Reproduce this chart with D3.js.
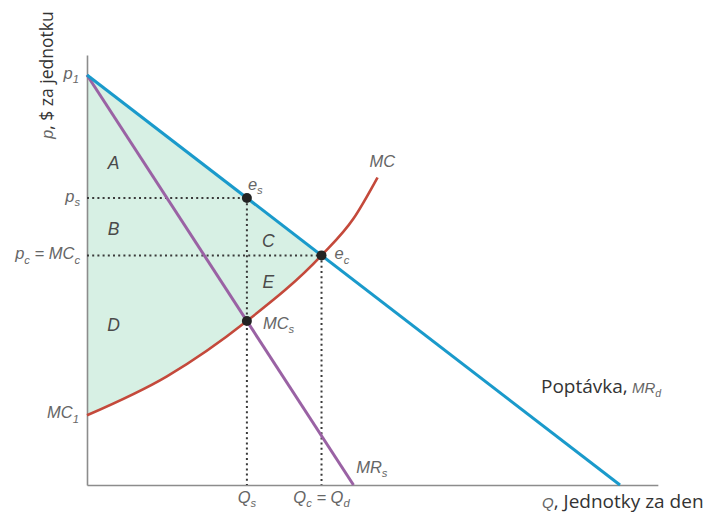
<!DOCTYPE html>
<html>
<head>
<meta charset="utf-8">
<script src="https://cdn.jsdelivr.net/npm/d3@7"></script>
<style>
  html, body { margin: 0; padding: 0; background: #fff; }
  svg { display: block; }
  .it { font-family: "Liberation Sans", Arial, sans-serif; font-style: italic; fill: #666; }
  .reg { font-family: "Open Sans", "Noto Sans", sans-serif; fill: #333; }
</style>
</head>
<body>
<script>
// Price axis (p, $ per unit) and quantity axis (Q, units per day)
const demandQ = [0, 100];
const demandP = [100, 0];
const mrQ = [0, 50];
const mrP = [100, 0];
const mcQ = [0, 15, 30, 44, 50, 54.5];
const mcP = [17, 26.5, 40, 56, 65, 75];

// Key points: monopsony equilibrium, competitive equilibrium, marginal cost at Qs
const pointNames = ["es", "ec", "MCs"];
const pointQ = [30, 44, 30];
const pointP = [70, 56, 40];

const Qs = 30, Qc = 44, ps = 70, pc = 56, p1 = 100, mc1 = 17;
const qAxisMax = 107.1, pAxisMax = 104.9;

const W = 709, H = 513;
const x = d3.scaleLinear().domain([0, 100]).range([87, 620]);
const y = d3.scaleLinear().domain([0, 100]).range([485, 75]);

const svg = d3.select("body").append("svg").attr("width", W).attr("height", H);

const zip = (a, b) => a.map((v, i) => [v, b[i]]);
const line = d3.line().x(d => x(d[0])).y(d => y(d[1]));
const mcLine = d3.line().x(d => x(d[0])).y(d => y(d[1])).curve(d3.curveMonotoneX);
const mcData = zip(mcQ, mcP);

// Shaded surplus region: below demand, above MC, left of Qc
const clip = svg.append("defs").append("clipPath").attr("id", "aboveMC");
clip.append("path").attr("d",
  mcLine(mcData) + `L${x(mcQ[mcQ.length - 1])},${y(pAxisMax)}L${x(0)},${y(pAxisMax)}Z`);
svg.append("path")
  .attr("d", line([[0, p1], [Qc, pc], [Qc, 0], [0, 0]]) + "Z")
  .attr("fill", "#d7f0e4")
  .attr("clip-path", "url(#aboveMC)");

// Axes (plain lines, no ticks)
const yAxisScale = y.copy().domain([0, pAxisMax]).range([y(0), y(pAxisMax)]);
const xAxisScale = x.copy().domain([0, qAxisMax]).range([x(0), x(qAxisMax)]);
const gy = svg.append("g").attr("transform", `translate(${x(0)},0)`)
  .call(d3.axisLeft(yAxisScale).tickValues([]).tickSizeOuter(0));
const gx = svg.append("g").attr("transform", `translate(0,${y(0)})`)
  .call(d3.axisBottom(xAxisScale).tickValues([]).tickSizeOuter(0));
[gy, gx].forEach(g => g.select(".domain").attr("stroke", "#8c8c8c").attr("stroke-width", 1.6));

// Dotted guide lines
const guides = [
  [[0, ps], [Qs, ps]],
  [[Qs, ps], [Qs, 0]],
  [[0, pc], [Qc, pc]],
  [[Qc, pc], [Qc, 0]]
];
svg.selectAll(".guide").data(guides).join("path")
  .attr("class", "guide")
  .attr("d", line)
  .attr("fill", "none")
  .attr("stroke", "#3a3a3a")
  .attr("stroke-width", 2)
  .attr("stroke-dasharray", "2,3.2");

// Curves
svg.append("path").attr("d", mcLine(mcData))
  .attr("fill", "none").attr("stroke", "#c4493b").attr("stroke-width", 2.6);
svg.append("path").attr("d", line(zip(mrQ, mrP)))
  .attr("fill", "none").attr("stroke", "#9a62a4").attr("stroke-width", 3);
svg.append("path").attr("d", line(zip(demandQ, demandP)))
  .attr("fill", "none").attr("stroke", "#1a9acb").attr("stroke-width", 3);

// Points
svg.selectAll(".pt").data(pointQ.map((q, i) => ({ name: pointNames[i], q, p: pointP[i] })))
  .join("circle")
  .attr("class", "pt")
  .attr("cx", d => x(d.q)).attr("cy", d => y(d.p)).attr("r", 5)
  .attr("fill", "#232323");

// Text helper: parts = [[text, isSub]]
function label(px, py, parts, opts = {}) {
  const t = svg.append("text")
    .attr("x", px).attr("y", py)
    .attr("text-anchor", opts.anchor || "start")
    .attr("font-size", opts.size || 16.5)
    .attr("class", opts.cls || "it");
  let prevSub = false;
  parts.forEach(([s, sub]) => {
    const ts = t.append("tspan").text(s);
    if (sub) { ts.attr("font-size", "0.68em").attr("dy", prevSub ? 0 : "0.38em"); }
    else if (prevSub) { ts.attr("dy", "-0.26em"); }
    prevSub = !!sub;
  });
  return t;
}

// Y-axis labels
label(79, y(p1) + 4, [["p"], ["1", true]], { anchor: "end" });
label(80, y(ps) + 4, [["p"], ["s", true]], { anchor: "end" });
label(80, y(pc) + 4, [["p"], ["c", true], [" = MC"], ["c", true]], { anchor: "end" });
label(79, y(mc1) + 3, [["MC"], ["1", true]], { anchor: "end" });

// X-axis labels
label(x(Qs), 503, [["Q"], ["s", true]], { anchor: "middle" });
label(x(Qc), 503, [["Q"], ["c", true], [" = Q"], ["d", true]], { anchor: "middle" });

// Region letters
const regionNames = ["A", "B", "C", "E", "D"];
const regionQ = [5, 5, 34, 34, 5];
const regionP = [78.5, 62.5, 59.5, 49.5, 39];
regionNames.forEach((n, i) => {
  label(x(regionQ[i]), y(regionP[i]) + 6, [[n]], { anchor: "middle", size: 17.5 })
    .style("fill", "#4a4a4a");
});

// Point / curve labels
label(x(30) + 1, y(70) - 8, [["e"], ["s", true]]);
label(x(44) + 13, y(56) + 4, [["e"], ["c", true]]);
label(x(30) + 16, y(40) + 8, [["MC"], ["s", true]]);
label(x(53), y(78.5) + 4, [["MC"]]);
label(x(50.5), 473, [["MR"], ["s", true]]);

// Demand label
const dl = svg.append("text").attr("x", 541).attr("y", 393).attr("font-size", 19);
dl.append("tspan").attr("class", "reg").text("Poptávka,");
dl.append("tspan").attr("class", "it").attr("font-size", 15).text(" MR");
dl.append("tspan").attr("class", "it").attr("font-size", 10.5).attr("dy", "0.35em").text("d");

// Axis titles
const qt = svg.append("text").attr("x", 542).attr("y", 508).attr("font-size", 19);
qt.append("tspan").attr("class", "it").attr("font-size", 15).text("Q");
qt.append("tspan").attr("class", "reg").text(", Jednotky za den");

const pt = svg.append("text")
  .attr("transform", `translate(53,${y(p1)}) rotate(-90)`)
  .attr("text-anchor", "middle").attr("font-size", 17.5);
pt.append("tspan").attr("class", "it").attr("font-size", 16).text("p");
pt.append("tspan").attr("class", "reg").text(", $ za jednotku");
</script>
</body>
</html>
